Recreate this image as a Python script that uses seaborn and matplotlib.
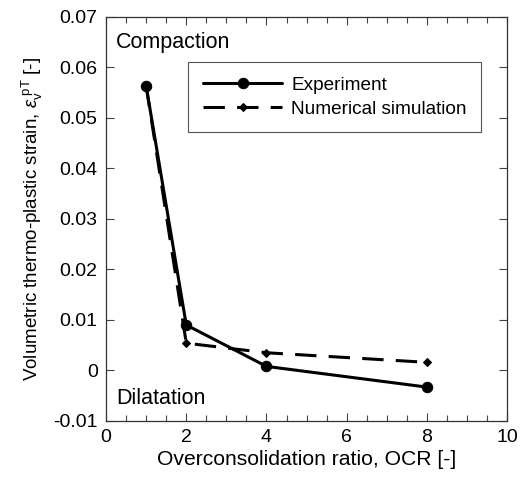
import matplotlib
matplotlib.use("Agg")
import matplotlib.pyplot as plt
import seaborn as sns
import pandas as pd
from matplotlib.ticker import MultipleLocator

ocr = [1, 2, 4, 8]
experiment = [0.0563, 0.0090, 0.0008, -0.0033]
simulation = [0.0563, 0.0054, 0.0035, 0.0016]

sns.set_theme(style="ticks")
plt.rcParams["font.family"] = ["Liberation Sans", "DejaVu Sans"]
plt.rcParams["mathtext.fontset"] = "custom"
plt.rcParams["mathtext.rm"] = "Liberation Sans"
plt.rcParams["mathtext.it"] = "Liberation Sans:italic"
plt.rcParams["text.color"] = "black"
plt.rcParams["axes.labelcolor"] = "black"
plt.rcParams["xtick.color"] = "#444444"
plt.rcParams["ytick.color"] = "#444444"
plt.rcParams["xtick.labelcolor"] = "black"
plt.rcParams["ytick.labelcolor"] = "black"

df_exp = pd.DataFrame({"OCR": ocr, "strain": experiment})
df_sim = pd.DataFrame({"OCR": ocr, "strain": simulation})

fig = plt.figure(figsize=(5.25, 4.8), dpi=100)
ax = fig.add_axes([0.202, 0.123, 0.764, 0.842])

sns.lineplot(data=df_exp, x="OCR", y="strain", ax=ax, color="black", lw=2.2,
             marker="o", markersize=7.5, markeredgecolor="black", label="Experiment")
sns.lineplot(data=df_sim, x="OCR", y="strain", ax=ax, color="black", lw=2.2,
             marker="D", markersize=4.2, markeredgecolor="black",
             label="Numerical simulation")
ax.lines[1].set_dashes((7, 4))

ax.set_xlim(0, 10)
ax.set_ylim(-0.01, 0.07)
ax.xaxis.set_major_locator(MultipleLocator(2))
ax.xaxis.set_minor_locator(MultipleLocator(0.5))
ax.set_yticks([-0.01, 0, 0.01, 0.02, 0.03, 0.04, 0.05, 0.06, 0.07])
ax.set_yticklabels(["-0.01", "0", "0.01", "0.02", "0.03", "0.04", "0.05", "0.06", "0.07"])
ax.tick_params(which="both", direction="in", top=True, right=True, labelsize=14)
ax.tick_params(which="major", length=6, width=0.8, pad=6)
ax.tick_params(which="minor", length=4, width=0.8)
for s in ax.spines.values():
    s.set_color("#333333")
    s.set_linewidth(0.9)

ax.set_xlabel("Overconsolidation ratio, OCR [-]", fontsize=15.2, labelpad=3)
ax.set_ylabel(r"Volumetric thermo-plastic strain, $\varepsilon_{\mathrm{v}}^{\ \mathrm{pT}}$ [-]",
              fontsize=13.5, labelpad=6)

ax.text(0.25, 0.065, "Compaction", fontsize=15.5, va="center", ha="left")
ax.text(0.25, -0.0055, "Dilatation", fontsize=15.5, va="center", ha="left")

leg = ax.legend(loc="upper left", bbox_to_anchor=(0.205, 0.887), fontsize=13.7,
                frameon=True, fancybox=False, edgecolor="#555555", framealpha=1,
                handlelength=4.2, handletextpad=0.45, borderpad=0.75,
                labelspacing=0.35, borderaxespad=0)
leg.get_frame().set_linewidth(0.8)

fig.savefig("out.png", dpi=100)
